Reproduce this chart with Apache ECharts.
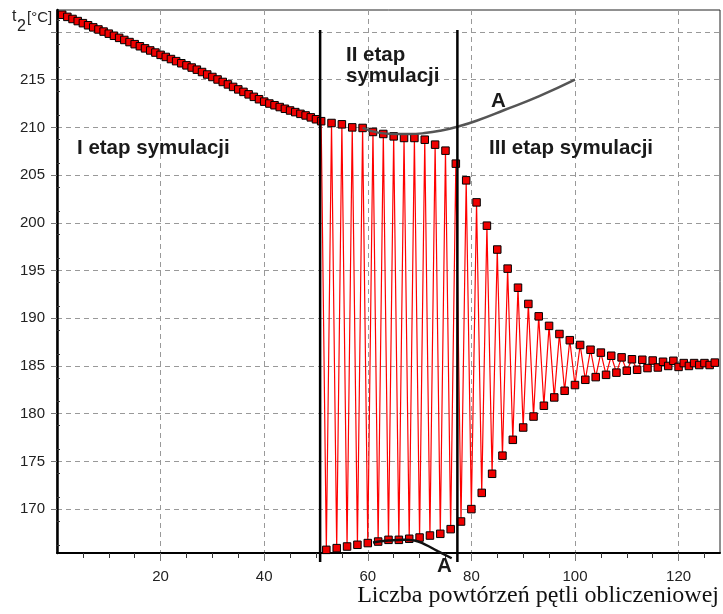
<!DOCTYPE html>
<html>
<head>
<meta charset="utf-8">
<script src="https://cdn.jsdelivr.net/npm/echarts@6/dist/echarts.min.js"></script>
<style>
  html, body { margin: 0; padding: 0; background: #fff; }
  #chart { width: 723px; height: 614px; }
</style>
</head>
<body>
<div id="chart"></div>
<script>
// t2 [°C] per iteration of the loop
// stage I: iterations 1..51
var stage1Start = 1
var stage1 = [
  221.80, 221.58, 221.36, 221.14, 220.92, 220.70, 220.48, 220.26, 220.04, 219.82,
  219.60, 219.38, 219.16, 218.94, 218.72, 218.50, 218.28, 218.06, 217.84, 217.60,
  217.38, 217.16, 216.94, 216.72, 216.50, 216.27, 216.05, 215.80, 215.54, 215.28,
  215.02, 214.76, 214.50, 214.24, 213.98, 213.72, 213.46, 213.20, 212.95, 212.70,
  212.50, 212.32, 212.13, 211.95, 211.77, 211.60, 211.42, 211.25, 211.05, 210.85,
  210.65
]
// stage II + III: iterations 52..127, value jumps low / high every step
var stage23Start = 52
var stage23 = [
  165.73, 210.46, 165.91, 210.32, 166.08, 210.00, 166.26, 209.94, 166.44, 209.52,
  166.60, 209.31, 166.78, 209.06, 166.78, 208.89, 166.89, 208.89, 167.02, 208.71,
  167.23, 208.19, 167.41, 207.56, 167.90, 206.20, 168.70, 204.45, 170.00, 202.14,
  171.70, 199.70, 173.70, 197.20, 175.60, 195.20, 177.26, 193.20, 178.55, 191.50,
  179.70, 190.20, 180.83, 189.20, 181.70, 188.35, 182.40, 187.70, 183.00, 187.20,
  183.55, 186.70, 183.83, 186.40, 184.07, 186.07, 184.30, 185.90, 184.50, 185.70,
  184.60, 185.65, 184.78, 185.57, 184.84, 185.44, 185.00, 185.54, 184.90, 185.30,
  185.00, 185.30, 185.10, 185.30, 185.10, 185.35
]

// curve A (upper, grey) and A (lower, black)
var curveATopX = [59, 62, 65, 68, 71, 74, 77.5, 81, 86.5, 93, 100]
var curveATopY = [209.95, 209.45, 209.3, 209.3, 209.4, 209.65, 210.1, 210.7, 211.85, 213.25, 215.0]
var curveABottomX = [61, 64, 67, 69, 71, 73.5, 76.2]
var curveABottomY = [166.5, 166.7, 166.8, 166.7, 166.3, 165.6, 164.85]

// boundaries between the stages
var stageBounds = [50.8, 77.3]
var boundTop = 220.2
var boundBottom = 164.45

// axes
var xMin = 0, xMax = 128
var yMin = 165.4, yMax = 222.3
var xMajor = [20, 40, 60, 80, 100, 120]
var xMinor = [5, 10, 15, 25, 30, 35, 45, 50, 55, 65, 70, 75, 85, 90, 95, 105, 110, 115, 125]
var yLabels = [170, 175, 180, 185, 190, 195, 200, 205, 210, 215]
var yMajor = [170, 175, 180, 185, 190, 195, 200, 205, 210, 215, 220]
var yMinor = [166.25, 168.75, 171.25, 173.75, 176.25, 178.75, 181.25, 183.75, 186.25, 188.75,
  191.25, 193.75, 196.25, 198.75, 201.25, 203.75, 206.25, 208.75, 211.25, 213.75,
  216.25, 218.75, 221.25]

var mainData = []
stage1.forEach(function(v, i) { mainData.push([stage1Start + i, v]) })
stage23.forEach(function(v, i) { mainData.push([stage23Start + i, v]) })

var boundSeries = stageBounds.map(function(x) {
  return {
    type: 'line',
    data: [[x, boundTop], [x, boundBottom]],
    symbol: 'none',
    clip: false,
    silent: true,
    z: 5,
    lineStyle: { color: '#000', width: 2.5 }
  }
})

var sans = 'Liberation Sans, Arial, sans-serif'
var boldText = function(x, y, text) {
  return {
    type: 'text',
    left: x,
    top: y,
    z: 10,
    style: { text: text, font: 'bold 20.5px ' + sans, fill: '#1a1a1a' }
  }
}

var chart = echarts.init(document.getElementById('chart'))
chart.setOption({
  animation: false,
  grid: {
    left: 57,
    top: 10,
    right: 3,
    bottom: 61,
    show: true,
    borderColor: '#222',
    borderWidth: 1
  },
  xAxis: [
    {
      type: 'value',
      min: xMin,
      max: xMax,
      axisLine: { show: true, onZero: false, lineStyle: { color: '#000', width: 2 } },
      axisTick: { show: true, customValues: xMajor, length: 8, lineStyle: { color: '#777' } },
      axisLabel: { customValues: xMajor, color: '#222', fontSize: 15, fontFamily: sans, margin: 16 },
      splitLine: { show: true, lineStyle: { color: '#999', type: [5, 4], width: 1 } }
    },
    {
      type: 'value',
      min: xMin,
      max: xMax,
      position: 'bottom',
      axisLine: { show: false },
      axisTick: { show: true, customValues: xMinor, length: 5, lineStyle: { color: '#333' } },
      axisLabel: { show: false },
      splitLine: { show: false }
    }
  ],
  yAxis: [
    {
      type: 'value',
      min: yMin,
      max: yMax,
      axisLine: { show: true, onZero: false, lineStyle: { color: '#000', width: 2.5 } },
      axisTick: { show: true, customValues: yMajor, length: 6, lineStyle: { color: '#777' } },
      axisLabel: { customValues: yLabels, color: '#222', fontSize: 15, fontFamily: sans, margin: 12 },
      splitLine: { show: true, lineStyle: { color: '#999', type: [5, 4], width: 1 } }
    },
    {
      type: 'value',
      min: yMin,
      max: yMax,
      position: 'left',
      axisLine: { show: false },
      axisTick: { show: true, inside: true, customValues: yMinor, length: 3, lineStyle: { color: '#333' } },
      axisLabel: { show: false },
      splitLine: { show: false }
    }
  ],
  series: [
    {
      type: 'line',
      data: mainData,
      symbol: 'rect',
      symbolSize: 7.5,
      showAllSymbol: true,
      z: 3,
      lineStyle: { color: '#ff0000', width: 1.2 },
      itemStyle: { color: '#f00000', borderColor: '#000', borderWidth: 1 }
    },
    {
      type: 'line',
      data: curveATopX.map(function(x, i) { return [x, curveATopY[i]] }),
      symbol: 'none',
      smooth: true,
      z: 4,
      lineStyle: { color: '#555', width: 2.5 }
    },
    {
      type: 'line',
      data: curveABottomX.map(function(x, i) { return [x, curveABottomY[i]] }),
      symbol: 'none',
      smooth: true,
      clip: false,
      z: 4,
      lineStyle: { color: '#111', width: 2.5 }
    }
  ].concat(boundSeries),
  graphic: [
    { type: 'text', left: 12, top: 9, z: 10, style: { text: 't', font: '16px ' + sans, fill: '#222' } },
    { type: 'text', left: 17, top: 19, z: 10, style: { text: '2', font: '16px ' + sans, fill: '#222' } },
    { type: 'text', left: 27, top: 10, z: 10, style: { text: '[°C]', font: '15px ' + sans, fill: '#222' } },
    boldText(77, 138, 'I etap symulacji'),
    boldText(346, 45, 'II etap'),
    boldText(346, 66, 'symulacji'),
    boldText(489, 138, 'III etap symulacji'),
    boldText(491, 91, 'A'),
    boldText(437, 556, 'A'),
    {
      type: 'text',
      right: 4,
      top: 584,
      z: 10,
      style: { text: 'Liczba powtórzeń pętli obliczeniowej', font: '24px Liberation Serif, Times New Roman, serif', fill: '#111' }
    }
  ]
})
</script>
</body>
</html>
